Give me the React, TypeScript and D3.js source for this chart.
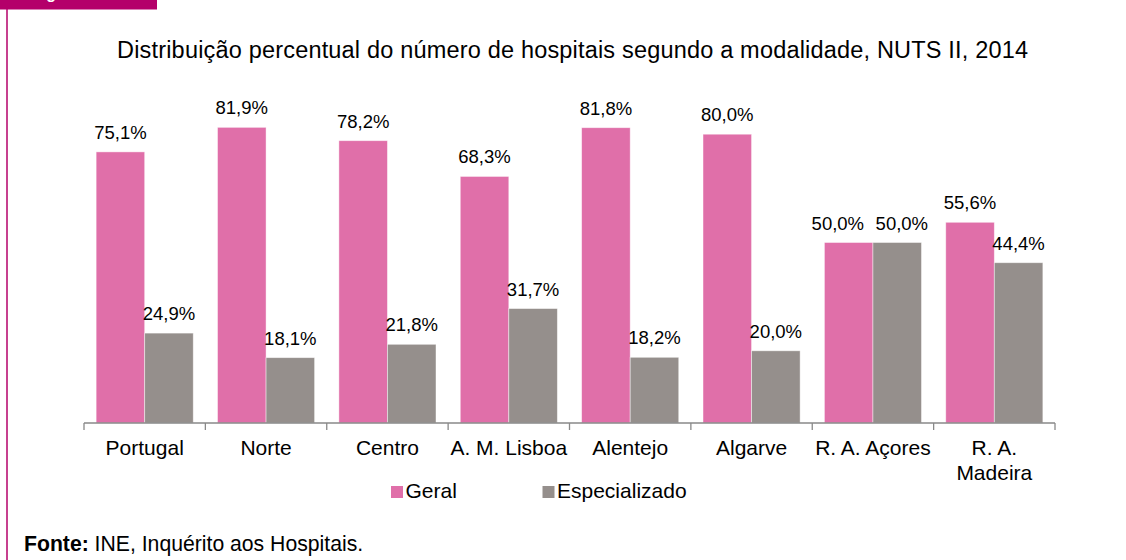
import React, { useEffect, useRef } from "react";
import * as d3 from "d3";

const categories = ["Portugal", "Norte", "Centro", "A. M. Lisboa", "Alentejo", "Algarve", "R. A. Açores", "R. A. Madeira"];
const seriesNames = ["Geral", "Especializado"];
const geral = [75.1, 81.9, 78.2, 68.3, 81.8, 80.0, 50.0, 55.6];
const especializado = [24.9, 18.1, 21.8, 31.7, 18.2, 20.0, 50.0, 44.4];
const colors = ["#E06FA9", "#958F8C"];
const title = "Distribuição percentual do número de hospitais segundo a modalidade, NUTS II, 2014";
const sourceBold = "Fonte:";
const sourceText = " INE, Inquérito aos Hospitais.";
const figLabel = "Figura 1";

const W = 1126;
const H = 560;
const FONT = "Arial, 'Liberation Sans', sans-serif";

export default function App() {
  const ref = useRef<SVGSVGElement | null>(null);

  useEffect(() => {
    const svg = d3.select(ref.current);
    svg.selectAll("*").remove();

    // frame decorations
    svg.append("rect").attr("x", 0).attr("y", 0).attr("width", 157).attr("height", 9.5).attr("fill", "#B4006A");
    svg.append("text").attr("x", 32).attr("y", -1).attr("fill", "#fff").attr("font-family", FONT)
      .attr("font-size", 16).attr("font-weight", "bold").text(figLabel);
    svg.append("line").attr("x1", 7).attr("x2", 7).attr("y1", 9).attr("y2", H).attr("stroke", "#B4006A").attr("stroke-width", 1.5);

    svg.append("text").attr("x", 117).attr("y", 58)
      .attr("font-family", FONT).attr("font-size", 23.5).attr("fill", "#000")
      .attr("textLength", 911).attr("lengthAdjust", "spacing").text(title);

    const x0 = d3.scaleBand<string>().domain(categories).range([84, 1055]).paddingInner(0).paddingOuter(0);
    const x1 = d3.scaleBand<string>().domain(seriesNames).range([0, x0.bandwidth()]).paddingInner(0).paddingOuter(0.25);
    const y = d3.scaleLinear().domain([0, 100]).range([423, 62]);

    const data = [geral, especializado];
    const g = svg.append("g");
    const fmt = (v: number) => d3.format(".1f")(v).replace(".", ",") + "%";

    seriesNames.forEach((s, si) => {
      const vals = data[si];
      g.selectAll(`rect.s${si}`).data(categories).enter().append("rect")
        .attr("x", (c) => (x0(c) as number) + (x1(s) as number))
        .attr("y", (_c, i) => y(vals[i]))
        .attr("width", x1.bandwidth())
        .attr("height", (_c, i) => y(0) - y(vals[i]))
        .attr("fill", colors[si])
        .attr("stroke", "rgba(255,255,255,0.55)")
        .attr("stroke-width", 0.8);
    });

    // labels with simple dodge for overlapping pairs
    const labelW = 52;
    const needGap = 12;
    categories.forEach((c, i) => {
      const cxs = seriesNames.map((s) => (x0(c) as number) + (x1(s) as number) + x1.bandwidth() / 2);
      const ys = data.map((vals) => y(vals[i]) - 13);
      let off = [0, 0];
      if (Math.abs(ys[0] - ys[1]) < 18) {
        const extra = labelW + needGap - (cxs[1] - cxs[0]);
        if (extra > 0) off = [-0.7 * extra, 0.3 * extra];
      }
      seriesNames.forEach((_s, si) => {
        g.append("text")
          .attr("x", cxs[si] + off[si])
          .attr("y", ys[si])
          .attr("text-anchor", "middle")
          .attr("font-family", FONT).attr("font-size", 18.5).attr("fill", "#000")
          .text(fmt(data[si][i]));
      });
    });

    // axis
    const axis = d3.axisBottom(x0).tickSize(0).tickFormat(() => "");
    const ag = svg.append("g").attr("transform", `translate(0,${y(0)})`).call(axis);
    ag.select(".domain").attr("stroke", "#898989").attr("stroke-width", 1.3).attr("d", `M84,0H1055`);
    const bounds = categories.map((c) => x0(c) as number).concat([1055]);
    ag.selectAll("line.tk").data(bounds).enter().append("line").attr("class", "tk")
      .attr("x1", (d) => d).attr("x2", (d) => d).attr("y1", 0).attr("y2", 7)
      .attr("stroke", "#898989").attr("stroke-width", 1.3);

    // category labels with wrap
    const maxW = x0.step() - 2;
    categories.forEach((c) => {
      const cx = (x0(c) as number) + x0.bandwidth() / 2;
      const t = svg.append("text").attr("x", cx).attr("y", y(0) + 32).attr("text-anchor", "middle")
        .attr("font-family", FONT).attr("font-size", 21).attr("fill", "#000");
      const words = c.split(" ");
      let line: string[] = [];
      let tspan = t.append("tspan").attr("x", cx).attr("dy", 0);
      words.forEach((w) => {
        line.push(w);
        tspan.text(line.join(" "));
        if ((tspan.node() as SVGTSpanElement).getComputedTextLength() > maxW && line.length > 1) {
          line.pop();
          tspan.text(line.join(" "));
          line = [w];
          tspan = t.append("tspan").attr("x", cx).attr("dy", 25).text(w);
        }
      });
    });

    // legend
    const legendItems = [{ x: 391, name: seriesNames[0], c: colors[0] }, { x: 542.5, name: seriesNames[1], c: colors[1] }];
    legendItems.forEach((it) => {
      svg.append("rect").attr("x", it.x).attr("y", 486).attr("width", 12).attr("height", 12).attr("fill", it.c);
      svg.append("text").attr("x", it.x + 14.5).attr("y", 498).attr("font-family", FONT).attr("font-size", 21)
        .attr("fill", "#000").text(it.name);
    });

    // source
    const st = svg.append("text").attr("x", 24).attr("y", 551).attr("font-family", FONT).attr("font-size", 21.2).attr("fill", "#000");
    st.append("tspan").attr("font-weight", "bold").text(sourceBold);
    st.append("tspan").text(sourceText);
  }, []);

  return (
    <div style={{ position: "absolute", left: 0, top: 0, width: W, height: H, background: "#fff" }}>
      <svg ref={ref} width={W} height={H} style={{ display: "block" }} />
    </div>
  );
}
